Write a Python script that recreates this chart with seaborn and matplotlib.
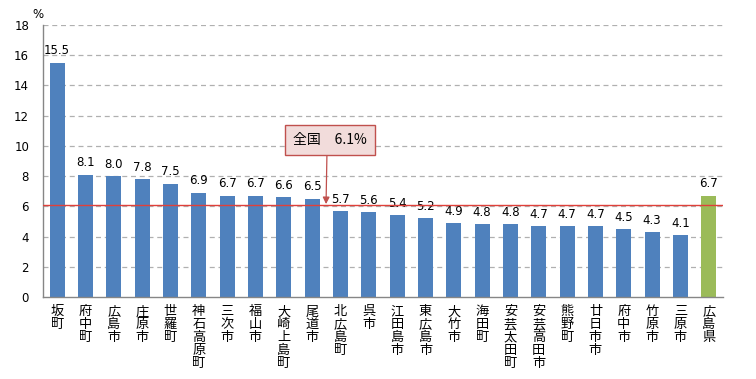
import matplotlib
matplotlib.use("Agg")
import matplotlib.pyplot as plt
import seaborn as sns
import pandas as pd
from matplotlib.ticker import FixedLocator

categories = ["坂町", "府中町", "広島市", "庄原市", "世羅町", "神石高原町", "三次市", "福山市",
              "大崎上島町", "尾道市", "北広島町", "呉市", "江田島市", "東広島市", "大竹市", "海田町",
              "安芸太田町", "安芸高田市", "熊野町", "廿日市市", "府中市", "竹原市", "三原市", "広島県"]
values = [15.5, 8.1, 8.0, 7.8, 7.5, 6.9, 6.7, 6.7, 6.6, 6.5, 5.7, 5.6, 5.4, 5.2, 4.9, 4.8,
          4.8, 4.7, 4.7, 4.7, 4.5, 4.3, 4.1, 6.7]
groups = ["市町"] * 23 + ["県"]
national = 6.1
national_label = "全国　6.1%"
yticks = [0, 2, 4, 6, 8, 10, 12, 14, 16, 18]

sns.set_theme(style="white")
plt.rcParams['font.family'] = ['Noto Sans CJK JP', 'DejaVu Sans']
plt.rcParams['text.color'] = 'black'
plt.rcParams['xtick.color'] = 'black'
plt.rcParams['ytick.color'] = 'black'

df = pd.DataFrame({"cat": categories, "val": values, "grp": groups})

fig = plt.figure(figsize=(7.56, 3.79), dpi=100)
ax = fig.add_axes([43/756, 1-297/379, (723-43)/756, (297-25)/379])

sns.barplot(data=df, x="cat", y="val", hue="grp", palette={"市町": "#4f81bd", "県": "#9bbb59"},
            width=0.52, dodge=False, legend=False, ax=ax, saturation=1, linewidth=0)

ax.set_xlim(-0.5, len(categories) - 0.5)
ax.set_ylim(0, 18)
ax.set_yticks(yticks)
ax.set_yticklabels([str(t) for t in yticks], fontsize=8.5, family='DejaVu Sans')
for t in yticks[1:]:
    ax.axhline(t, color="#b0b0b0", linestyle=(0, (4, 3)), linewidth=0.9, zorder=0)

ax.set_xticks(range(len(categories)))
ax.set_xticklabels(["\n".join(c) for c in categories], fontsize=9.5, linespacing=1.0,
                   va="top")
ax.tick_params(axis="x", which="major", length=0, pad=6)
ax.tick_params(axis="y", which="major", length=0, pad=10)
ax.xaxis.set_minor_locator(FixedLocator([i + 0.5 for i in range(len(categories) - 1)]))
ax.tick_params(axis="x", which="minor", direction="in", length=5, color="#868686", width=1)
ax.set_xlabel("")
ax.set_ylabel("")

for s in ["top", "right"]:
    ax.spines[s].set_visible(False)
for s in ["left", "bottom"]:
    ax.spines[s].set_color("#868686")
    ax.spines[s].set_linewidth(1)

for i, v in enumerate(values):
    ax.text(i, v + 0.35, f"{v:.1f}", ha="center", va="bottom", fontsize=8.5, family='DejaVu Sans')

ax.axhline(national, color="#e0403a", linewidth=1.0, zorder=3)

ax.annotate(national_label, xy=(9.49, national + 0.05), xytext=(9.63, 10.39),
            ha="center", va="center", fontsize=10,
            bbox=dict(boxstyle="square,pad=0.6", fc="#f2dcdb", ec="#c0504d", lw=1),
            arrowprops=dict(arrowstyle="-|>", color="#c0504d", lw=0.9,
                            shrinkA=0, shrinkB=0, relpos=(0.46, 0)))

fig.text(38/756, 1-14/379, "%", fontsize=8.5, ha="center", va="center", family='DejaVu Sans')

fig.savefig("out.png", dpi=100)
